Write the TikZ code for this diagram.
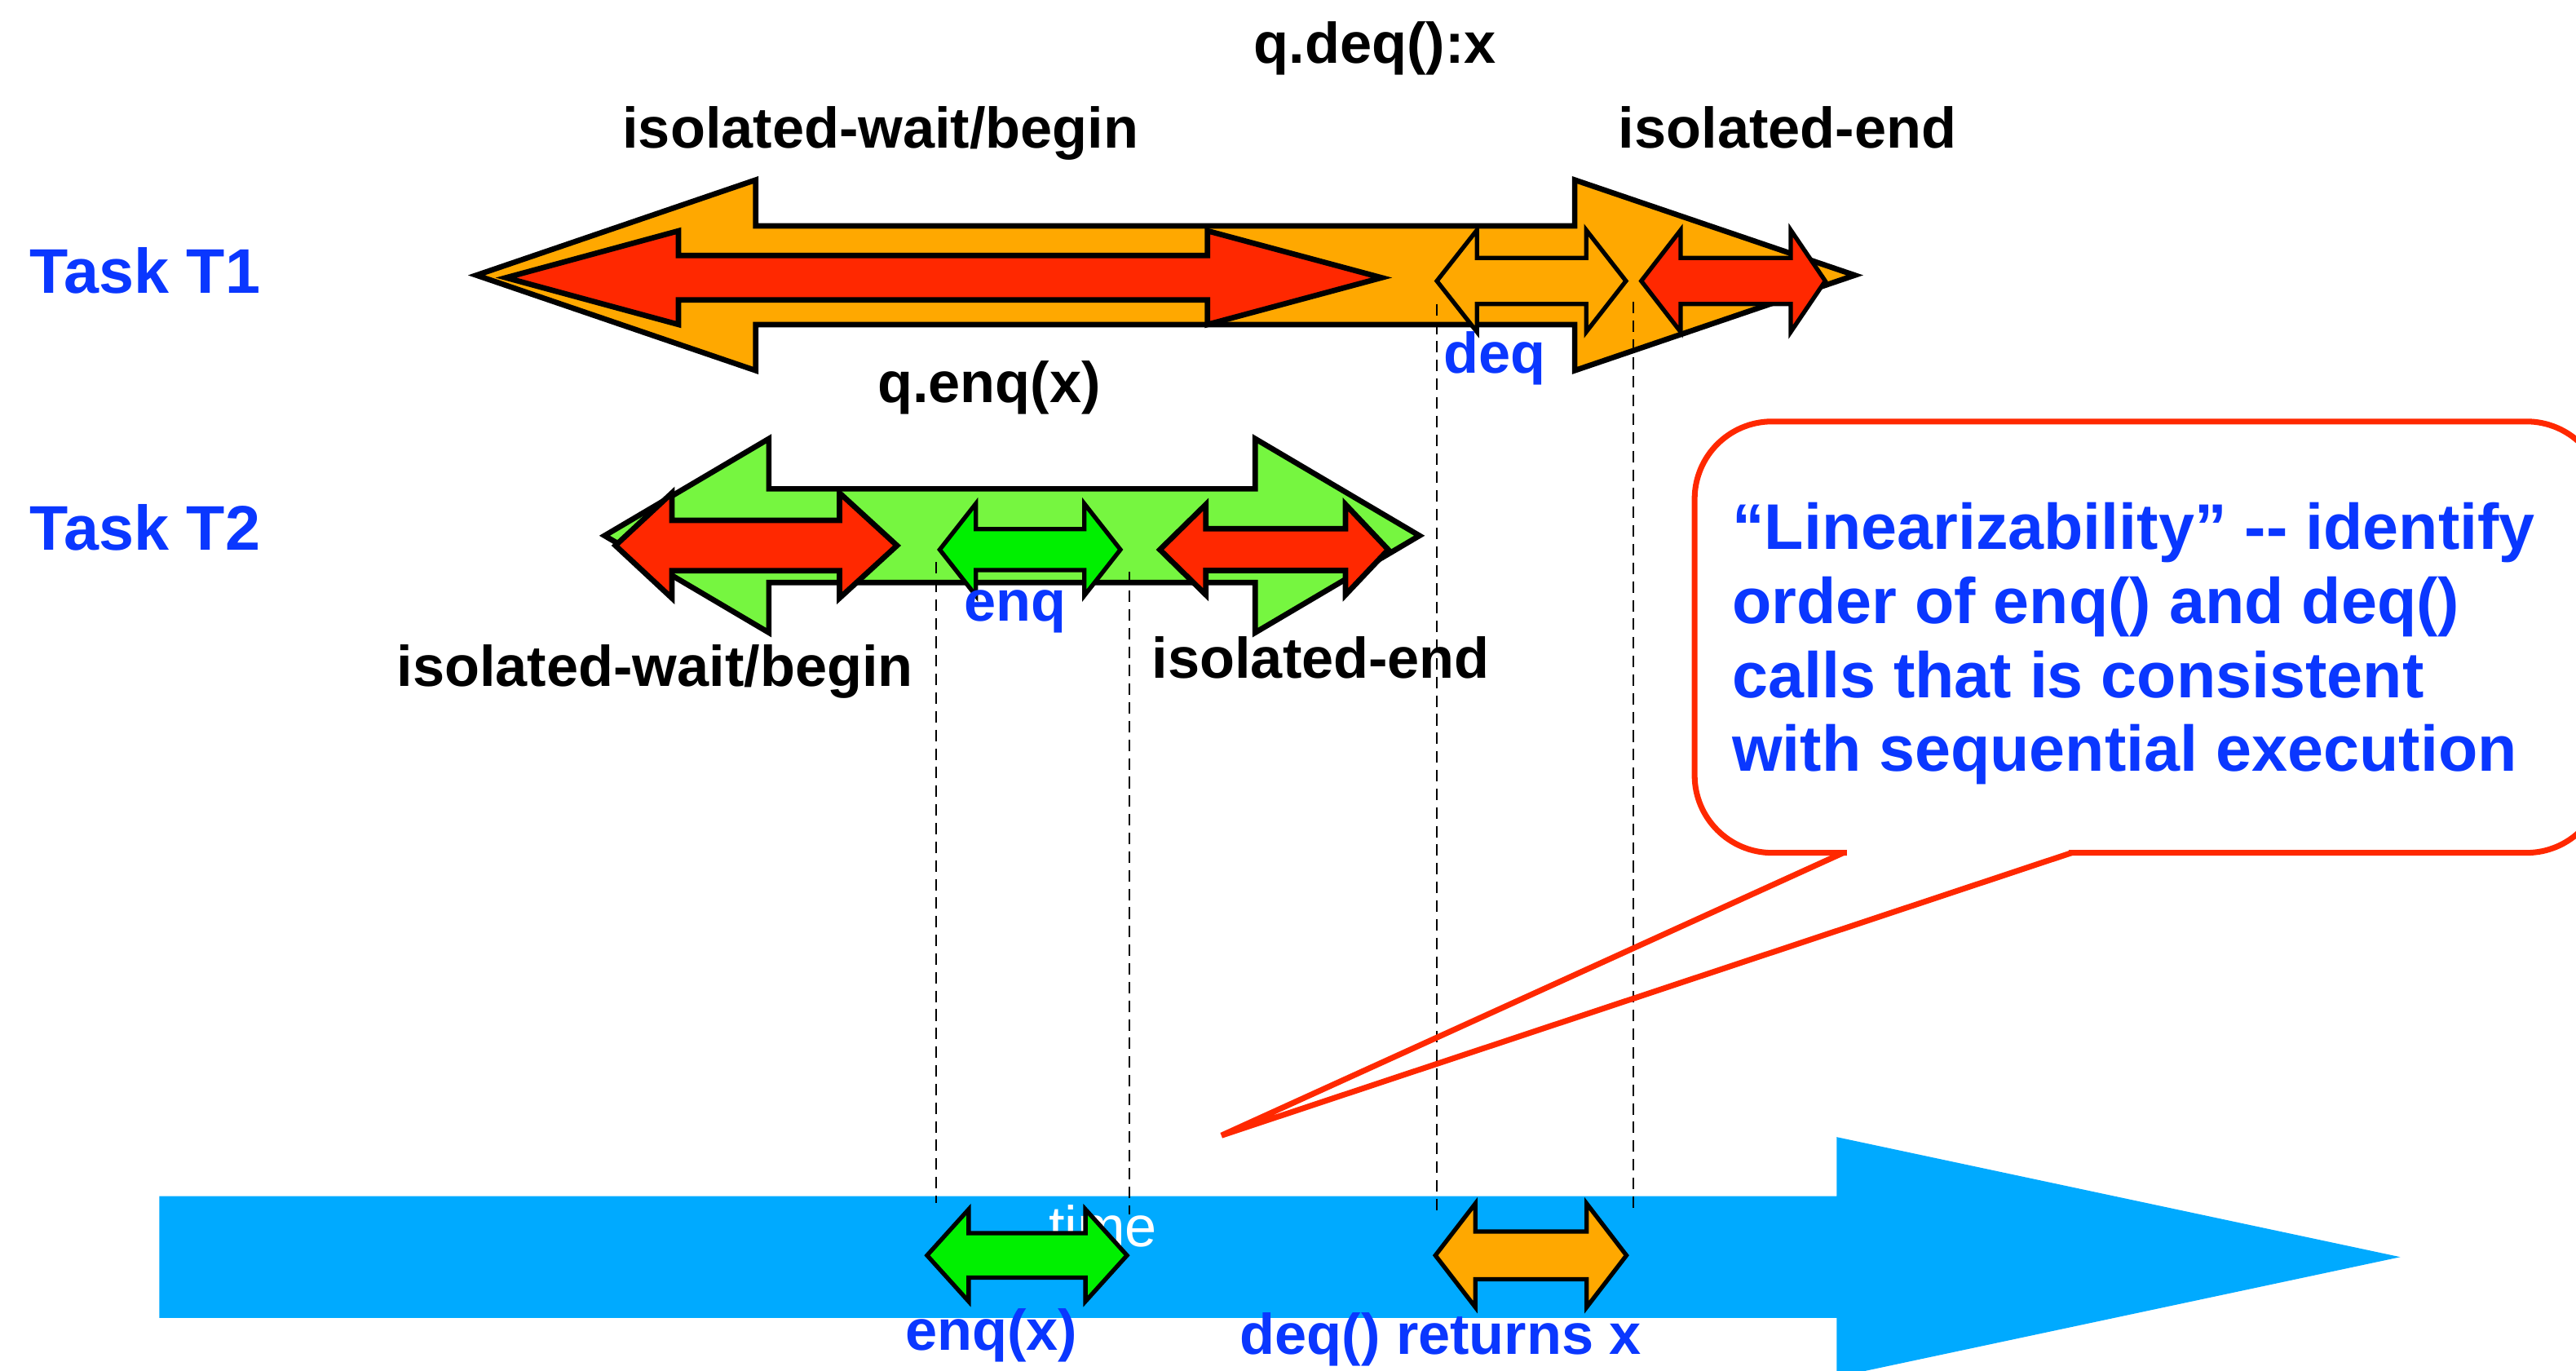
\documentclass[tikz,border=0pt]{standalone}
\usepackage{fontspec}
\setmainfont{Liberation Sans}
\definecolor{orng}{RGB}{255,168,0}
\definecolor{redar}{RGB}{255,40,0}
\definecolor{lgreen}{RGB}{118,246,64}
\definecolor{bgreen}{RGB}{0,240,0}
\definecolor{axisblue}{RGB}{0,170,255}
\definecolor{txtblue}{RGB}{10,55,255}
\definecolor{callred}{RGB}{255,40,0}
\newcommand\DblArr[8]{%
  \draw[#8] (#1,#5) -- (#2,{#5-#7}) -- (#2,{#5-#6}) -- (#3,{#5-#6}) -- (#3,{#5-#7}) -- (#4,#5)
    -- (#3,{#5+#7}) -- (#3,{#5+#6}) -- (#2,{#5+#6}) -- (#2,{#5+#7}) -- cycle;}
\tikzset{
  bigarr/.style={draw=black, line width=1.9pt, line join=miter, fill=#1},
  smallarr/.style={draw=black, line width=1.5pt, line join=miter, fill=#1},
  lbl/.style={inner sep=0pt, anchor=base, font=\fontsize{20}{24}\selectfont\bfseries},
  bluelbl/.style={lbl, text=txtblue},
  tasklbl/.style={inner sep=0pt, anchor=base west, text=txtblue, font=\fontsize{22}{26}\selectfont\bfseries},
  guide/.style={draw=black, line width=0.6pt, dash pattern=on 4pt off 2.5pt},
}
\begin{document}
\begin{tikzpicture}[x=0.020147cm, y=-0.020147cm]
\useasboundingbox (0,0) rectangle (1568,834);
\clip (0,0) rectangle (1568,834);
% time axis
\fill[axisblue] (97,728) -- (1118,728) -- (1118,692) -- (1461,765) -- (1118,838) -- (1118,802) -- (97,802) -- cycle;
\node[inner sep=0pt, anchor=base west, text=white, font=\fontsize{20}{24}\selectfont] (time) at (638,758.6) {time};
% Task T1
\DblArr{290}{460}{958.5}{1129}{167.5}{30}{58}{bigarr=orng}
\DblArr{308}{413}{735}{841}{169}{13.5}{28.5}{bigarr=redar}
\DblArr{874.6}{899}{965.5}{989.7}{171}{14}{31}{smallarr=orng}
\DblArr{999}{1023}{1090}{1111}{171}{14}{31}{smallarr=redar}
% Task T2
\DblArr{368}{468}{764}{864}{326}{28.5}{59}{bigarr=lgreen}
\DblArr{374.6}{409}{511}{546}{332}{15.3}{32}{bigarr=redar}
\DblArr{572}{594}{660}{682}{334.5}{12.5}{28}{smallarr=bgreen}
\DblArr{706}{734}{819}{845}{334.5}{12.7}{27.5}{bigarr=redar}
% bottom events
\DblArr{564.3}{589.6}{660.7}{686}{764}{13.5}{28}{smallarr=bgreen}
\DblArr{873.7}{898}{965.8}{990}{764}{14.5}{31.5}{smallarr=orng}
% dashed guides
\coordinate (g1t) at (570,342);   \coordinate (g1b) at (570,732);
\coordinate (g2t) at (687.5,348); \coordinate (g2b) at (687.5,739);
\coordinate (g3t) at (874.6,185); \coordinate (g3b) at (874.6,739);
\coordinate (g4t) at (994,183.6); \coordinate (g4b) at (994,737);
\draw[guide] (g1t) -- (g1b);
\draw[guide] (g2t) -- (g2b);
\draw[guide] (g3t) -- (g3b);
\draw[guide] (g4t) -- (g4b);
% labels
\node[tasklbl] (t1) at (18,178.4) {Task T1};
\node[tasklbl] (t2) at (18,334.7) {Task T2};
\node[lbl] (qdeq) at (837,38.4) {q.deq():x};
\node[lbl] (iwb1) at (536,90) {isolated-wait/begin};
\node[lbl] (ie1) at (1088,90) {isolated-end};
\node[lbl] (qenq) at (602,244.8) {q.enq(x)};
\node[bluelbl, anchor=base west] (deq) at (878.6,227) {deq};
\node[lbl] (iwb2) at (398.6,417.8) {isolated-wait/begin};
\node[bluelbl] (enq) at (618,378) {enq};
\node[lbl] (ie2) at (804,412.8) {isolated-end};
\node[bluelbl] (enqx) at (603.4,821.5) {enq(x)};
\node[bluelbl] (deqx) at (877,824) {deq() returns x};
% callout
\draw[callred, line width=2pt, fill=white, rounded corners=0.95cm] (1031.5,256.5) rectangle (1585,519);
\fill[white] (1124,514) rectangle (1259,524);
\coordinate (tipL) at (1122,519);
\coordinate (tip) at (743.5,691);
\coordinate (tipR) at (1261,519);
\draw[callred, line width=2pt, line join=miter] (tipL) -- (tip) -- (tipR);
\node[inner sep=0pt, anchor=base west, align=left, text=txtblue,
      font=\fontsize{22.5}{25.8}\selectfont\bfseries] (callout) at (1054,469.5)
  {“Linearizability” -{}- identify\\order of enq() and deq()\\calls that is consistent\\with sequential execution};
\end{tikzpicture}
\end{document}
